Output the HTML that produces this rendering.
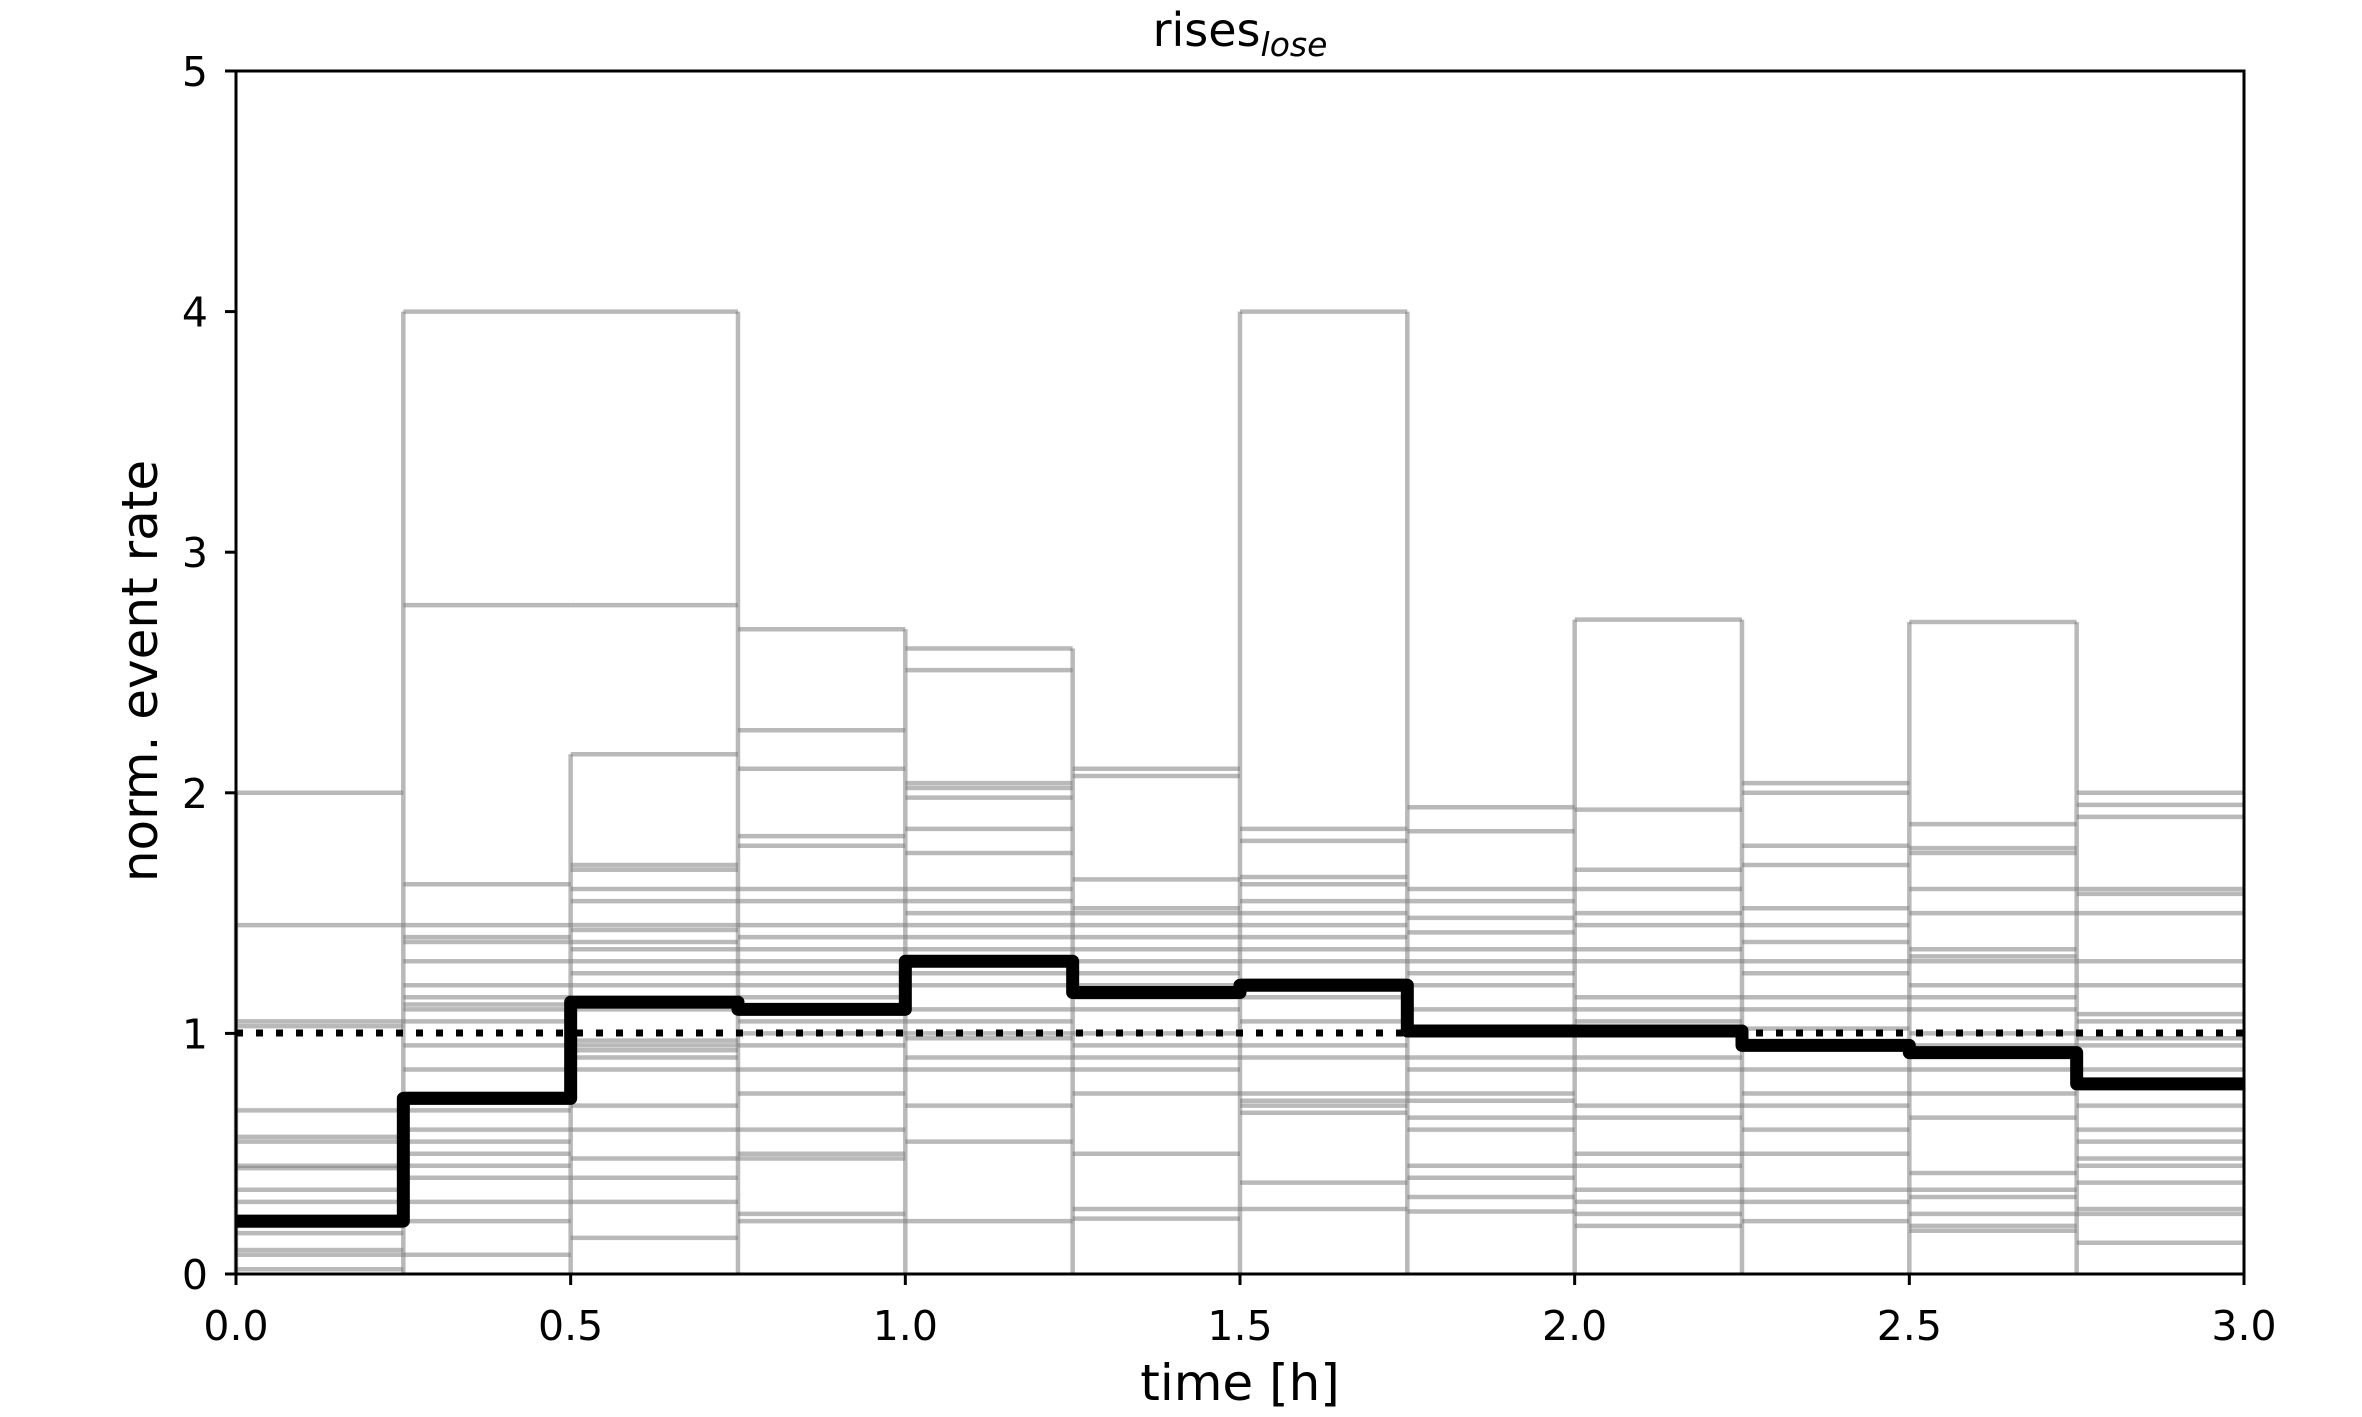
<!DOCTYPE html>
<html><head><meta charset="utf-8"><style>
html,body{margin:0;padding:0;background:#fff;}
svg{display:block;font-family:"DejaVu Sans","Liberation Sans",sans-serif;}
</style></head><body>
<svg id="s" width="2362" height="1417" viewBox="0 0 2362 1417" xmlns="http://www.w3.org/2000/svg">
<rect width="2362" height="1417" fill="#fff"/>
<g id="gray" stroke="#808080" stroke-opacity="0.55" stroke-width="4.5" fill="none"></g>
<line x1="236" y1="1033" x2="2244" y2="1033" stroke="#000" stroke-width="7" stroke-dasharray="7 13"/>
<path id="mean" fill="none" stroke="#000" stroke-width="13" stroke-linejoin="round"/>
<rect x="236" y="71" width="2008" height="1203" fill="none" stroke="#000" stroke-width="3"/>
<g id="ticks" stroke="#000" stroke-width="3"></g>
<g id="labels" font-size="41" fill="#000"></g>
<text x="1240" y="46" font-size="46" text-anchor="middle">rises<tspan font-size="33" font-style="italic" dy="10">lose</tspan></text>
<text x="1240" y="1400" font-size="50" text-anchor="middle">time [h]</text>
<text transform="translate(157,671) rotate(-90)" font-size="50" text-anchor="middle">norm. event rate</text>
</svg>
<script>
var X=function(t){return 236+669.33*t},Y=function(v){return 1274-240.6*v};
var bins=[
[2.0,1.45,1.05,1.03,0.68,0.57,0.55,0.45,0.44,0.35,0.3,0.2,0.17,0.1,0.08,0.02],
[4.0,2.78,1.62,1.45,1.4,1.38,1.3,1.2,1.15,1.12,1.1,1.05,0.95,0.85,0.75,0.68,0.6,0.55,0.5,0.45,0.4,0.3,0.22,0.08],
[4.0,2.78,2.16,1.7,1.68,1.6,1.55,1.45,1.43,1.38,1.35,1.3,1.25,1.2,1.1,0.97,0.95,0.93,0.9,0.85,0.7,0.6,0.48,0.4,0.3,0.15],
[2.68,2.26,2.1,1.82,1.78,1.6,1.55,1.45,1.4,1.35,1.3,1.25,1.2,1.15,1.05,1.0,0.95,0.85,0.75,0.6,0.5,0.48,0.25,0.22],
[2.6,2.51,2.04,2.02,1.98,1.85,1.75,1.6,1.55,1.5,1.45,1.4,1.35,1.25,1.2,1.1,1.05,1.0,0.98,0.9,0.85,0.7,0.55,0.22],
[2.1,2.07,1.64,1.52,1.5,1.45,1.4,1.35,1.3,1.25,1.2,1.15,1.1,1.0,0.95,0.9,0.85,0.75,0.5,0.27,0.23],
[4.0,1.85,1.8,1.65,1.62,1.55,1.5,1.45,1.4,1.35,1.3,1.22,1.15,1.05,0.95,0.9,0.75,0.72,0.7,0.67,0.38,0.27],
[1.94,1.84,1.6,1.55,1.48,1.42,1.35,1.3,1.25,1.2,1.1,1.0,0.9,0.85,0.75,0.72,0.65,0.6,0.45,0.4,0.32,0.26],
[2.72,1.93,1.68,1.6,1.5,1.45,1.35,1.3,1.15,1.1,1.05,0.9,0.85,0.7,0.65,0.5,0.45,0.35,0.3,0.25,0.2],
[2.04,2.0,1.78,1.7,1.52,1.45,1.38,1.3,1.25,1.15,1.1,1.02,0.95,0.85,0.75,0.7,0.6,0.5,0.35,0.3,0.22],
[2.71,1.87,1.77,1.75,1.6,1.5,1.35,1.32,1.3,1.2,1.15,1.1,1.0,0.95,0.85,0.75,0.65,0.42,0.35,0.32,0.25,0.2,0.18],
[2.0,1.95,1.9,1.6,1.58,1.5,1.3,1.2,1.08,1.05,0.98,0.95,0.85,0.78,0.7,0.6,0.55,0.48,0.45,0.38,0.27,0.25,0.13]];
var vh=[2.0,4.0,2.16,4.0,2.68,2.6,4.0,4.0,2.72,2.72,2.71,2.71];
var g='';
bins.forEach(function(b,i){b.forEach(function(v){g+='<line x1="'+X(i*0.25)+'" x2="'+X((i+1)*0.25)+'" y1="'+Y(v)+'" y2="'+Y(v)+'"/>';});});
vh.forEach(function(h,i){g+='<line x1="'+X(i*0.25)+'" x2="'+X(i*0.25)+'" y1="'+Y(0)+'" y2="'+Y(h)+'"/>';});
document.getElementById('gray').innerHTML=g;
var m=[0.22,0.73,1.13,1.10,1.30,1.17,1.20,1.01,1.01,0.95,0.92,0.79],d='';
m.forEach(function(v,i){d+=(i?'L':'M')+X(i*0.25)+' '+Y(v)+'L'+X((i+1)*0.25)+' '+Y(v);});
document.getElementById('mean').setAttribute('d',d);
var t='',l='';
for(var i=0;i<=6;i++){var x=X(i*0.5);t+='<line x1="'+x+'" x2="'+x+'" y1="1274" y2="1285"/>';l+='<text x="'+x+'" y="1340" text-anchor="middle">'+(i*0.5).toFixed(1)+'</text>';}
for(var v=0;v<=5;v++){var y=Y(v);t+='<line x1="225" x2="236" y1="'+y+'" y2="'+y+'"/>';l+='<text x="208" y="'+(y+15)+'" text-anchor="end">'+v+'</text>';}
document.getElementById('ticks').innerHTML=t;
document.getElementById('labels').innerHTML=l;
</script>
</body></html>
